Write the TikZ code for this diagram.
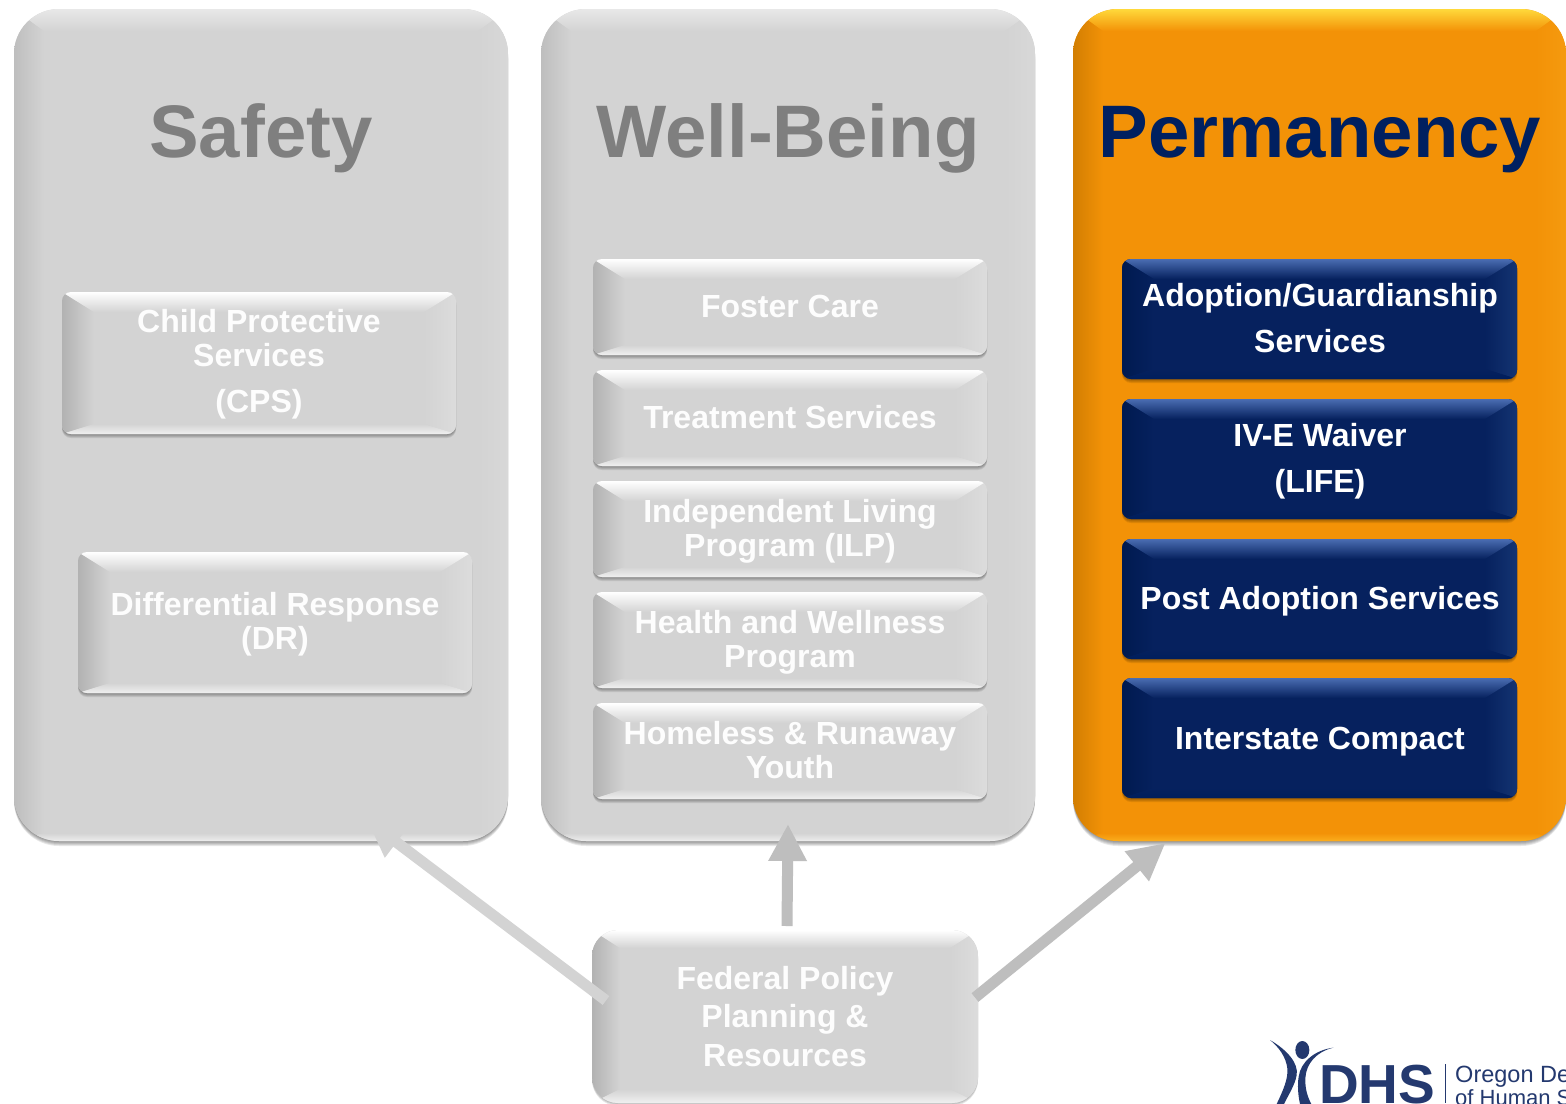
\documentclass[tikz,border=0pt]{standalone}
\usepackage{fontspec}
\setmainfont{Liberation Sans}
\usetikzlibrary{arrows.meta,calc}
\definecolor{grBase}{HTML}{D3D3D3}\definecolor{grTop}{HTML}{FFFFFF}\definecolor{grLeft}{HTML}{B2B2B2}\definecolor{grRight}{HTML}{DCDCDC}\definecolor{grBot}{HTML}{F0F0F0}
\definecolor{pnBase}{HTML}{D3D3D3}\definecolor{pnTop}{HTML}{E8E8E8}\definecolor{pnLeft}{HTML}{BEBEBE}\definecolor{pnRight}{HTML}{D8D8D8}\definecolor{pnBot}{HTML}{EDEDED}
\definecolor{pmBase}{HTML}{F39207}\definecolor{pmTop}{HTML}{FFD93B}\definecolor{pmLeft}{HTML}{D27E02}\definecolor{pmRight}{HTML}{F59A0F}\definecolor{pmBot}{HTML}{FBAE1E}
\definecolor{blBase}{HTML}{06215E}\definecolor{blTop}{HTML}{4A6DB2}\definecolor{blLeft}{HTML}{001A50}\definecolor{blRight}{HTML}{143472}\definecolor{blBot}{HTML}{001E5C}
\definecolor{navy}{HTML}{002060}\definecolor{logoblue}{HTML}{24396F}\definecolor{titlegray}{HTML}{7F7F7F}
\definecolor{arrowlight}{HTML}{D3D3D3}\definecolor{arrowdark}{HTML}{BEBEBE}
\tikzset{
  boxnode/.style={inner sep=0pt,outer sep=0pt,draw=none},
  title/.style={anchor=base,font=\fontsize{74.4}{74}\selectfont\bfseries},
  lbl/.style={anchor=base,align=center,text=#1,font=\fontsize{32}{34}\selectfont\bfseries},
  lblwide/.style={anchor=base,align=center,text=white,font=\fontsize{32}{46}\selectfont\bfseries},
  lblfed/.style={anchor=base,align=center,text=#1,font=\fontsize{32}{38.5}\selectfont\bfseries},
  flow/.style={line width=11pt,-{Triangle[length=37pt,width=36pt]}},
}
\newcommand\setbevel[5]{\def\bevr{#1}\def\bevx{#2}\def\bevt{#3}\def\bevb{#4}\def\bevs{#5}}
\newcommand\bevelbox[6]{%
  \pgfmathsetmacro\bw{#4-#2}\pgfmathsetmacro\bh{#5-#3}%
  \pgfmathsetmacro\cxx{(#2+#4)/2}\pgfmathsetmacro\cyy{(#3+#5)/2}%
  \foreach \sh in {1,...,\bevs}{\fill[black,opacity=.09,rounded corners=\bevr pt] (#2,#3+\sh) rectangle (#4,#5+\sh);}
  \node[boxnode,rounded corners=\bevr pt,fill=#6Base,minimum width=\bw pt,minimum height=\bh pt] (#1) at (\cxx,\cyy) {};
  \begin{scope}
    \clip[rounded corners=\bevr pt] (#2,#3) rectangle (#4,#5);
    \shade[left color=#6Left,right color=#6Base] (#2,#3)--({#2+\bevx},{#3+\bevt})--({#2+\bevx},{#5-\bevb})--(#2,#5)--cycle;
    \shade[left color=#6Base,right color=#6Right] (#4,#3)--({#4-\bevx},{#3+\bevt})--({#4-\bevx},{#5-\bevb})--(#4,#5)--cycle;
    \shade[top color=#6Top,bottom color=#6Base] (#2,#3)--(#4,#3)--({#4-\bevx},{#3+\bevt})--({#2+\bevx},{#3+\bevt})--cycle;
    \shade[top color=#6Base,bottom color=#6Bot] (#2,#5)--(#4,#5)--({#4-\bevx},{#5-\bevb})--({#2+\bevx},{#5-\bevb})--cycle;
  \end{scope}
}
\begin{document}
\begin{tikzpicture}[x=1pt,y=-1pt]
\useasboundingbox (0,0) rectangle (1566,1103);
\fill[white] (0,0) rectangle (1566,1103);
% panels
\setbevel{45}{30}{22}{8}{5}
\bevelbox{safety}{14}{9}{508}{841}{pn}
\bevelbox{wellbeing}{541}{9}{1035}{841}{pn}
\bevelbox{permanency}{1073}{9}{1566}{841}{pm}
\node[title,text=titlegray] (tsafety) at (261,157) {Safety};
\node[title,text=titlegray] (twell) at (788,157) {Well-Being};
\node[title,text=navy] (tperm) at (1320,157) {Permanency};
% buttons
\setbevel{9}{32}{20}{10}{4}
\bevelbox{cps}{62}{292}{456}{434}{gr}
\bevelbox{dr}{78}{552}{472}{693}{gr}
\bevelbox{foster}{593}{259}{987}{355}{gr}
\bevelbox{treat}{593}{370}{987}{466}{gr}
\bevelbox{ilp}{593}{481}{987}{577}{gr}
\bevelbox{health}{593}{592}{987}{688}{gr}
\bevelbox{homeless}{593}{703}{987}{799}{gr}
\bevelbox{adopt}{1122}{259}{1517}{379}{bl}
\bevelbox{waiver}{1122}{399}{1517}{519}{bl}
\bevelbox{post}{1122}{539}{1517}{659}{bl}
\bevelbox{compact}{1122}{678}{1517}{798}{bl}
\node[lbl=white!95!grBase] (lcps) at (259,412) {Child Protective\\Services\\[12pt](CPS)};
\node[lbl=white!95!grBase] (ldr) at (275,649) {Differential Response\\(DR)};
\node[lbl=white!95!grBase] (lfoster) at (790,317) {Foster Care};
\node[lbl=white!95!grBase] (ltreat) at (790,428) {Treatment Services};
\node[lbl=white!95!grBase] (lilp) at (790,556) {Independent Living\\Program (ILP)};
\node[lbl=white!95!grBase] (lhealth) at (790,667) {Health and Wellness\\Program};
\node[lbl=white!95!grBase] (lhomeless) at (790,778) {Homeless \& Runaway\\Youth};
\node[lblwide] (ladopt) at (1320,352) {Adoption/Guardianship\\Services};
\node[lblwide] (lwaiver) at (1320,492) {IV-E Waiver\\(LIFE)};
\node[lblwide] (lpost) at (1320,609) {Post Adoption Services};
\node[lblwide] (lcompact) at (1320,749) {Interstate Compact};
% federal box
\setbevel{26}{28}{18}{14}{3}
\bevelbox{federal}{592}{930}{978}{1103}{gr}
\node[lblfed=white!95!grBase] (lfed) at (785,1066) {Federal Policy\\Planning \&\\Resources};
% arrows
\draw[flow,arrowlight] ($(federal.west)+(14,-16)$) -- ($(safety.south)+(106,-21)$);
\draw[flow,arrowdark] ($(federal.north)+(2,-4)$) -- ($(wellbeing.south)+(0,-17)$);
\draw[flow,arrowdark] ($(federal.east)+(-3,-19)$) -- ($(permanency.south)+(-154,2)$);
% logo
\begin{scope}
\clip (1200,1000) rectangle (1566,1103);
\begin{scope}[shift={(1200,1000)},scale=1/3]
\fill[logoblue] (307,150) ellipse (21 and 27);
\fill[logoblue] (210,120) .. controls (262,150) and (296,190) .. (290,225) .. controls (285,255) and (265,285) .. (252,312) -- (230,312) .. controls (250,270) and (265,235) .. (262,205) .. controls (258,170) and (235,140) .. (210,120) -- cycle;
\fill[logoblue] (400,143) .. controls (350,155) and (318,190) .. (316,235) .. controls (315,265) and (322,290) .. (334,312) -- (300,312) .. controls (294,285) and (292,255) .. (296,230) .. controls (302,185) and (345,150) .. (400,143) -- cycle;
\end{scope}
\node[anchor=base west,inner sep=0pt,text=logoblue,font=\fontsize{55}{55}\selectfont\bfseries] (ldhs) at (1319,1103) {DHS};
\node[anchor=base west,inner sep=0pt,text=logoblue,font=\fontsize{23.5}{24}\selectfont] (lore) at (1455,1082) {Oregon De};
\node[anchor=base west,inner sep=0pt,text=logoblue,font=\fontsize{22}{24}\selectfont] (lhum) at (1455,1105) {of Human S};
\fill[logoblue] (1444.5,1064) rectangle (1446,1103);
\end{scope}
\end{tikzpicture}
\end{document}
